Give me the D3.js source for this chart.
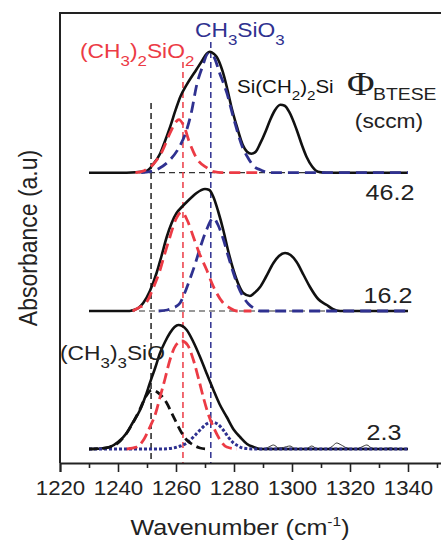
<!DOCTYPE html>
<html>
<head>
<meta charset="utf-8">
<script src="https://cdn.jsdelivr.net/npm/d3@7"></script>
<style>
  html, body { margin: 0; padding: 0; background: #fff; }
  svg { display: block; }
</style>
</head>
<body>
<script>
// ---------------- DATA (wavenumber cm^-1, absorbance a.u. above each baseline) ----------------
const majorTicks = [1220, 1240, 1260, 1280, 1300, 1320, 1340];
const minorTicks = [1230, 1250, 1270, 1290, 1310, 1330, 1350];

const flowLabels = ["46.2", "16.2", "2.3"];
const offsets = [2.763, 1.38, 0];   // vertical stacking offsets of the three spectra

// Φ = 46.2 sccm
const top_total = [[1230,0],[1240,0],[1246,0.005],[1250,0.02],[1252,0.08],[1254.5,0.19],[1256,0.30],[1258,0.46],[1260,0.64],[1261.5,0.76],[1263.7,0.88],[1267,1.03],[1269,1.12],[1270.6,1.19],[1271.7,1.21],[1273,1.19],[1274,1.16],[1276,1.02],[1277.5,0.86],[1279,0.67],[1281,0.46],[1283,0.28],[1284.5,0.21],[1286,0.19],[1287.5,0.21],[1289,0.29],[1291,0.42],[1292.5,0.53],[1294,0.62],[1296,0.68],[1297.5,0.67],[1299,0.61],[1301.6,0.43],[1303.5,0.27],[1305,0.16],[1307,0.06],[1309,0.01],[1312,0],[1340,0]];
const top_dimethyl = [[1246,0],[1249,0.02],[1252,0.08],[1255,0.20],[1258,0.40],[1260,0.51],[1261,0.53],[1262.5,0.48],[1264.8,0.29],[1267,0.15],[1270.6,0.05],[1273,0.01],[1276,0],[1288,0]];
const top_methyl = [[1248,0],[1251,0.01],[1254,0.04],[1258,0.13],[1261,0.25],[1263.7,0.43],[1265.5,0.63],[1267,0.86],[1269,1.05],[1271.1,1.19],[1273,1.16],[1275,1.00],[1277.5,0.80],[1280,0.53],[1283,0.25],[1285,0.14],[1287,0.06],[1289,0.03],[1292,0],[1340,0]];

// Φ = 16.2 sccm
const mid_total = [[1230,0],[1244,0],[1245.3,0.01],[1247,0.03],[1248.7,0.08],[1251,0.20],[1253.3,0.38],[1255,0.55],[1256.8,0.74],[1258.5,0.88],[1260.2,0.98],[1262,1.04],[1263.7,1.09],[1265.5,1.14],[1267.1,1.18],[1270,1.22],[1271.5,1.21],[1272.9,1.14],[1274.5,1.00],[1276.3,0.81],[1278,0.60],[1279.8,0.41],[1281.5,0.27],[1283.2,0.18],[1285.5,0.15],[1287,0.18],[1289,0.24],[1291,0.34],[1293.6,0.48],[1295.5,0.55],[1297.6,0.58],[1299.5,0.56],[1301.6,0.49],[1304,0.36],[1306.2,0.24],[1309,0.12],[1312,0.06],[1314,0.02],[1316.6,0],[1340,0]];
const mid_dimethyl = [[1245,0],[1247,0.03],[1249.9,0.09],[1252,0.22],[1254.5,0.41],[1256,0.56],[1257.9,0.74],[1260,0.92],[1262,0.99],[1264,0.90],[1266,0.74],[1268,0.58],[1270.6,0.41],[1272.5,0.27],[1274,0.18],[1276,0.09],[1278.6,0.03],[1281,0],[1286,0]];
const mid_methyl = [[1254,0],[1257,0.01],[1259,0.03],[1261.4,0.08],[1263,0.18],[1264.8,0.32],[1266.5,0.46],[1268.3,0.63],[1270.5,0.81],[1272.9,0.93],[1274.5,0.86],[1276.3,0.72],[1278,0.55],[1279.8,0.38],[1281.5,0.24],[1283.2,0.14],[1285,0.07],[1286.7,0.03],[1289,0],[1340,0]];

// Φ = 2.3 sccm
const bot_total = [[1230,0],[1234,0.005],[1237.2,0.02],[1240,0.07],[1243,0.16],[1245,0.26],[1247.6,0.39],[1249.5,0.53],[1251,0.66],[1252.8,0.81],[1254.5,0.96],[1256.2,1.07],[1257.9,1.16],[1259.5,1.22],[1260.8,1.24],[1262.2,1.23],[1263.7,1.19],[1266,1.07],[1268.3,0.92],[1270.5,0.76],[1272.9,0.59],[1275,0.45],[1277.5,0.32],[1280,0.19],[1282.1,0.12],[1284.5,0.05],[1286.7,0.02],[1289,0],[1340,0]];
const bot_noise = [[1287,0],[1290,0],[1292,0.02],[1293.6,0.04],[1295.5,0.01],[1297,0.015],[1299.3,0.03],[1301,0.005],[1304,0],[1305.5,0.01],[1306.8,0.03],[1308.5,0.005],[1312,0],[1314,0.03],[1315.4,0.06],[1317,0.04],[1319,0.01],[1322,0],[1324,0.02],[1325.8,0.04],[1327.5,0.01],[1330,0],[1334,0.01],[1336,0],[1340,0]];
const bot_trimethyl = [[1230,0],[1234,0.005],[1237.2,0.02],[1240,0.06],[1243,0.16],[1245.5,0.28],[1247.6,0.40],[1249.5,0.52],[1251.6,0.59],[1253.5,0.57],[1255,0.53],[1256.8,0.46],[1258.5,0.36],[1260.2,0.26],[1262,0.16],[1263.7,0.09],[1266,0.04],[1268.3,0.01],[1271,0]];
const bot_dimethyl = [[1243,0],[1246.4,0.02],[1249,0.10],[1251,0.22],[1253,0.36],[1254.5,0.52],[1256.2,0.70],[1257.9,0.89],[1260,1.04],[1262,1.08],[1264,1.04],[1266,0.89],[1267.8,0.70],[1269.4,0.52],[1271,0.36],[1272.9,0.22],[1275,0.10],[1277.5,0.02],[1281,0]];
const bot_methyl = [[1230,0],[1255,0],[1259,0.01],[1261.5,0.03],[1263.7,0.06],[1266,0.12],[1268.3,0.19],[1270.5,0.25],[1272.3,0.27],[1274.3,0.25],[1276.3,0.19],[1278,0.12],[1279.8,0.06],[1281.5,0.03],[1283,0.01],[1287,0],[1340,0]];

// vertical guide lines: [wavenumber, top value]
const guideTrimethyl = [1251.4, 3.46];
const guideDimethyl  = [1262.4, 3.87];
const guideMethyl    = [1272.0, 4.07];
const baselineRange = [1230, 1340];

// ---------------- DRAWING ----------------
const W = 441, H = 540;
const RED = "#ec3b45", BLUE = "#2f3190", BLK = "#111";
const FONT = "'Liberation Sans', Arial, Helvetica, sans-serif";
const SX = 1.14;  // horizontal text stretch of the original image

const svg = d3.select("body").append("svg").attr("width", W).attr("height", H)
  .style("background", "#fff");

const x = d3.scaleLinear().domain([1220, 1360]).range([60, 466]);
const y = d3.scaleLinear().domain([-0.14, 4.36]).range([463, 13]);

const plot = svg.append("g");

function line(off) {
  return d3.line().x(d => x(d[0])).y(d => y(d[1] + off)).curve(d3.curveMonotoneX);
}
function draw(data, off, color, width, dash) {
  plot.append("path").datum(data).attr("d", line(off))
    .attr("fill", "none").attr("stroke", color).attr("stroke-width", width)
    .attr("stroke-dasharray", dash || null)
    .attr("stroke-linejoin", "round").attr("stroke-linecap", "butt");
}

// thin dashed baselines (top and middle)
[offsets[0], offsets[1]].forEach(off => {
  plot.append("line").attr("x1", x(baselineRange[0])).attr("x2", x(baselineRange[1]))
    .attr("y1", y(off)).attr("y2", y(off))
    .attr("stroke", "#333").attr("stroke-width", 1.2).attr("stroke-dasharray", "6,4");
});

// vertical guide lines
[[guideTrimethyl, "#222"], [guideDimethyl, RED], [guideMethyl, BLUE]].forEach(([g, c]) => {
  plot.append("line").attr("x1", x(g[0])).attr("x2", x(g[0]))
    .attr("y1", y(g[1])).attr("y2", y(-0.14))
    .attr("stroke", c).attr("stroke-width", 1.5).attr("stroke-dasharray", "6,4");
});

// top spectrum
draw(top_total, offsets[0], BLK, 2.6);
draw(top_methyl, offsets[0], BLUE, 2.8, "11,6");
draw(top_dimethyl, offsets[0], RED, 2.8, "11,6");

// middle spectrum
draw(mid_total, offsets[1], BLK, 2.6);
draw(mid_methyl, offsets[1], BLUE, 2.8, "11,6");
draw(mid_dimethyl, offsets[1], RED, 2.8, "11,6");

// bottom spectrum
draw(bot_noise, offsets[2], "#333", 1);
draw(bot_total, offsets[2], BLK, 2.6);
draw(bot_methyl, offsets[2], BLUE, 3, "3,2");
draw(bot_trimethyl, offsets[2], BLK, 2.8, "9,5");
draw(bot_dimethyl, offsets[2], RED, 2.8, "11,5");

// axes / frame
const axisG = svg.append("g").attr("transform", `translate(0,${y(-0.14)})`);
axisG.call(d3.axisBottom(x).tickValues(majorTicks).tickSize(9).tickPadding(9.5).tickFormat(d3.format("d")));
const minorG = svg.append("g").attr("transform", `translate(0,${y(-0.14)})`);
minorG.call(d3.axisBottom(x).tickValues(minorTicks).tickSize(5).tickFormat(""));
minorG.select(".domain").remove();
[axisG, minorG].forEach(g => {
  g.selectAll("line").attr("stroke", "#222").attr("stroke-width", 1.6);
  g.select(".domain").attr("stroke", "#222").attr("stroke-width", 2);
});
axisG.selectAll("text").attr("font-family", FONT).attr("font-size", 19.5)
  .attr("fill", "#222").attr("transform", `scale(${SX},1)`);

svg.append("line").attr("x1", x(1220)).attr("x2", x(1220)).attr("y1", y(4.36)).attr("y2", y(-0.14))
  .attr("stroke", "#222").attr("stroke-width", 2);
svg.append("line").attr("x1", x(1220) - 1).attr("x2", W).attr("y1", y(4.36)).attr("y2", y(4.36))
  .attr("stroke", "#222").attr("stroke-width", 2);

// ---------------- TEXT ----------------
function txt(xp, yp, parts, size, color, anchor, family) {
  const g = svg.append("g").attr("transform", `translate(${xp},${yp}) scale(${SX},1)`);
  const t = g.append("text").attr("font-family", family || FONT).attr("font-size", size)
    .attr("fill", color).attr("text-anchor", anchor || "start");
  let shift = 0;
  parts.forEach(p => {
    const [s, kind] = typeof p === "string" ? [p, "n"] : p;
    let target = 0, fs = size;
    if (kind === "sub") { target = size * 0.38; fs = size * 0.74; }
    if (kind === "sup") { target = -size * 0.42; fs = size * 0.62; }
    t.append("tspan").attr("dy", target - shift).attr("font-size", fs).text(s);
    shift = target;
  });
  return t;
}

txt(80, 58, ["(CH", ["3", "sub"], ")", ["2", "sub"], "SiO", ["2", "sub"]], 20, RED);
txt(195, 37, ["CH", ["3", "sub"], "SiO", ["3", "sub"]], 20, BLUE);
txt(237, 93, ["Si(CH", ["2", "sub"], ")", ["2", "sub"], "Si"], 18, "#111");
txt(347, 95, ["Φ"], 33, "#222", "start", "'Liberation Serif', 'Times New Roman', serif");
txt(373, 100, ["BTESE"], 17, "#222");
txt(389, 128, ["(sccm)"], 20, "#222", "middle");
txt(60, 360, ["(CH", ["3", "sub"], ")", ["3", "sub"], "SiO"], 20, "#222");

txt(390, 200, [flowLabels[0]], 22, "#222", "middle");
txt(388, 303, [flowLabels[1]], 22, "#222", "middle");
txt(384, 440, [flowLabels[2]], 22, "#222", "middle");

// axis titles
txt(240, 535, ["Wavenumber (cm", ["-1", "sup"], ")"], 22, "#222", "middle");
svg.append("text").attr("transform", `translate(37,238) rotate(-90) scale(1,${SX})`)
  .attr("font-family", FONT).attr("font-size", 23).attr("fill", "#222")
  .attr("text-anchor", "middle").text("Absorbance (a.u)");
</script>
</body>
</html>
